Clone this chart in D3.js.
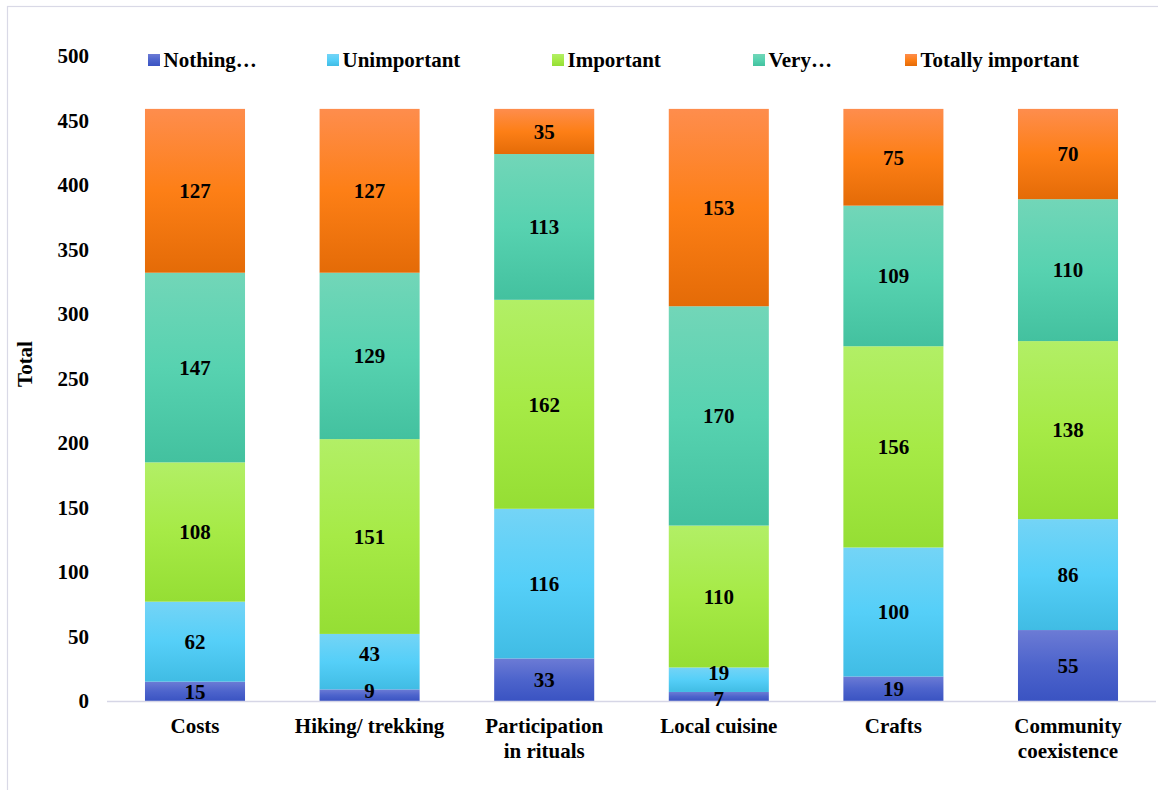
<!DOCTYPE html>
<html>
<head>
<meta charset="utf-8">
<script src="https://cdn.jsdelivr.net/npm/d3@7"></script>
<style>
  html, body { margin: 0; padding: 0; background: #fff; }
  svg { display: block; }
  svg text { font-family: "Liberation Serif", "Times New Roman", Tinos, "DejaVu Serif", serif !important; font-weight: bold; fill: #000; }
</style>
</head>
<body>
<svg id="chart" width="1158" height="790"></svg>
<script>
// Survey answers per tourism activity (number of respondents)
const categories = ["Costs", "Hiking/ trekking", "Participation in rituals", "Local cuisine", "Crafts", "Community coexistence"];
const categoryLines = [["Costs"], ["Hiking/ trekking"], ["Participation", "in rituals"], ["Local cuisine"], ["Crafts"], ["Community", "coexistence"]];
const seriesNames = ["Nothing…", "Unimportant", "Important", "Very…", "Totally important"];
const nothingValues     = [15, 9, 33, 7, 19, 55];
const unimportantValues = [62, 43, 116, 19, 100, 86];
const importantValues   = [108, 151, 162, 110, 156, 138];
const veryValues        = [147, 129, 113, 170, 109, 110];
const totallyValues     = [127, 127, 35, 153, 75, 70];
const yTicks = [0, 50, 100, 150, 200, 250, 300, 350, 400, 450, 500];

const seriesValues = [nothingValues, unimportantValues, importantValues, veryValues, totallyValues];

// Vertical three-stop gradients (top, middle, bottom) for each series
const gradientStops = [
  ["#6c7bd5", "#4d64cc", "#3a53c2"],
  ["#74d4f6", "#55cff8", "#40bce4"],
  ["#b2ef66", "#a6ea46", "#95de34"],
  ["#72d6b8", "#57d2b0", "#43c19f"],
  ["#fe8d4d", "#fd7f16", "#e46b07"]
];
const legendX = [148, 327, 552, 753, 905];
const FONT = "'Liberation Serif', 'Times New Roman', Tinos, 'DejaVu Serif', serif";

// Pixel nudges for labels on thin neighbouring segments so they stay readable
const labelNudge = {
  "Hiking/ trekking|Nothing…": -5,
  "Hiking/ trekking|Unimportant": -8,
  "Local cuisine|Unimportant": -7,
  "Local cuisine|Nothing…": 2
};

const svg = d3.select("#chart");

// Outer frame
svg.append("rect")
  .attr("x", 7.5).attr("y", 6.5)
  .attr("width", 1200).attr("height", 900)
  .attr("fill", "none").attr("stroke", "#d9d9e6").attr("stroke-width", 1.2);

const defs = svg.append("defs");
gradientStops.forEach((stops, i) => {
  const g = defs.append("linearGradient")
    .attr("id", "grad" + i)
    .attr("x1", 0).attr("y1", 0).attr("x2", 0).attr("y2", 1);
  g.append("stop").attr("offset", "0%").attr("stop-color", stops[0]);
  g.append("stop").attr("offset", "50%").attr("stop-color", stops[1]);
  g.append("stop").attr("offset", "100%").attr("stop-color", stops[2]);
});

const x = d3.scaleBand()
  .domain(categories)
  .range([107.7, 1155.3])
  .paddingInner(0.427)
  .paddingOuter(0.2135);

const y = d3.scaleLinear().domain([0, 500]).range([701, 56]);

// Stack the series
const rows = categories.map((c, i) => {
  const r = { category: c };
  seriesNames.forEach((s, j) => { r[s] = seriesValues[j][i]; });
  return r;
});
const stacked = d3.stack().keys(seriesNames)(rows);

// Y tick labels
const yAxis = d3.axisLeft(y).tickValues(yTicks).tickSize(0).tickPadding(0).tickFormat(d3.format("d"));
const yG = svg.append("g").attr("transform", "translate(89,0)").call(yAxis)
  .attr("font-family", FONT).attr("font-size", 21);
yG.select(".domain").remove();
yG.selectAll("text")
  .attr("font-weight", "bold")
  .attr("fill", "#000");

// Y title
svg.append("text")
  .attr("transform", "translate(32,364) rotate(-90)")
  .attr("text-anchor", "middle")
  .attr("font-family", FONT)
  .attr("font-size", 21)
  .text("Total");

// Bars
const layers = svg.append("g").selectAll("g")
  .data(stacked)
  .join("g")
  .attr("fill", (d, i) => `url(#grad${i})`);

layers.selectAll("rect")
  .data(d => d)
  .join("rect")
  .attr("x", d => x(d.data.category))
  .attr("width", x.bandwidth())
  .attr("y", d => y(d[1]))
  .attr("height", d => y(d[0]) - y(d[1]));

// X axis line
svg.append("line")
  .attr("x1", 107).attr("x2", 1156)
  .attr("y1", 701.5).attr("y2", 701.5)
  .attr("stroke", "#d6d6e6").attr("stroke-width", 1.5);

// Value labels
const labels = svg.append("g").attr("font-family", FONT);
stacked.forEach(layer => {
  layer.forEach(d => {
    const nudge = labelNudge[d.data.category + "|" + layer.key] || 0;
    labels.append("text")
      .attr("x", x(d.data.category) + x.bandwidth() / 2)
      .attr("y", (y(d[0]) + y(d[1])) / 2 + nudge)
      .attr("dy", "0.35em")
      .attr("text-anchor", "middle")
      .attr("font-size", 21)
      .text(d[1] - d[0]);
  });
});

// Category labels
const catG = svg.append("g").attr("font-family", FONT);
categories.forEach((c, i) => {
  const t = catG.append("text")
    .attr("x", x(c) + x.bandwidth() / 2)
    .attr("y", 733)
    .attr("text-anchor", "middle")
    .attr("font-size", 21);
  categoryLines[i].forEach((line, k) => {
    t.append("tspan")
      .attr("x", x(c) + x.bandwidth() / 2)
      .attr("dy", k === 0 ? 0 : 25)
      .text(line);
  });
});

// Legend
const legend = svg.append("g").attr("font-family", FONT);
seriesNames.forEach((s, i) => {
  legend.append("rect")
    .attr("x", legendX[i]).attr("y", 54)
    .attr("width", 12).attr("height", 12)
    .attr("fill", `url(#grad${i})`);
  legend.append("text")
    .attr("x", legendX[i] + 15.5)
    .attr("y", 67)
    .attr("font-size", 21)
    .text(s);
});
</script>
</body>
</html>
